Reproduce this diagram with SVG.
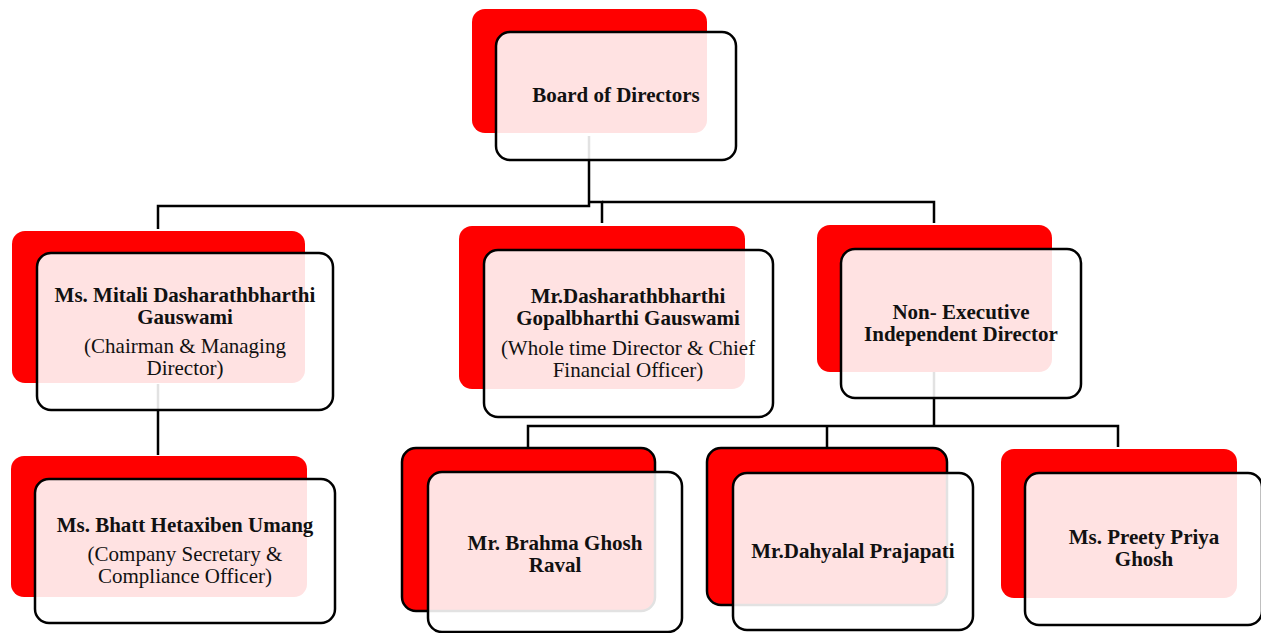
<svg xmlns="http://www.w3.org/2000/svg" width="1261" height="633" viewBox="0 0 1261 633">
<style>
.bg{fill:#ff0000;}
.bgs{fill:#ff0000;stroke:#000;stroke-width:2.5;}
.fr{fill:#fff;fill-opacity:0.885;stroke:#000;stroke-width:2.5;}
.con{fill:none;stroke:#000;stroke-width:2.5;}
text{font-family:"Liberation Serif","Times New Roman",serif;font-size:21px;fill:#111;text-anchor:middle;}
.b{font-weight:bold;}
</style>
<rect width="1261" height="633" fill="#fff"/>
<g id="connectors">
<path class="con" d="M589,136 V206 H158 V229"/>
<path class="con" d="M589,202 H602 V223"/>
<path class="con" d="M602,202 H934 V223"/>
<path class="con" d="M158,384 V455"/>
<path class="con" d="M934,372 V426"/>
<path class="con" d="M528,447 V426 H1118 V447"/>
<path class="con" d="M827,426 V447"/>
</g>
<g id="board">
<rect class="bg" x="472" y="9" width="235" height="124" rx="13"/>
<rect class="fr" x="496" y="32" width="240" height="128" rx="14"/>
<text class="b" x="616" y="102">Board of Directors</text>
</g>
<g id="mitali">
<rect class="bg" x="12" y="231" width="293" height="152" rx="13"/>
<rect class="fr" x="37" y="253" width="296" height="157" rx="14"/>
<text class="b" x="185" y="302">Ms. Mitali Dasharathbharthi</text>
<text class="b" x="185" y="324">Gauswami</text>
<text x="185" y="353">(Chairman &amp; Managing</text>
<text x="185" y="375">Director)</text>
</g>
<g id="dasharath">
<rect class="bg" x="459" y="226" width="286" height="163" rx="13"/>
<rect class="fr" x="484" y="250" width="289" height="167" rx="14"/>
<text class="b" x="628" y="303">Mr.Dasharathbharthi</text>
<text class="b" x="628" y="325">Gopalbharthi Gauswami</text>
<text x="628" y="355">(Whole time Director &amp; Chief</text>
<text x="628" y="377">Financial Officer)</text>
</g>
<g id="nonexec">
<rect class="bg" x="817" y="225" width="235" height="147" rx="13"/>
<rect class="fr" x="841" y="249" width="240" height="149" rx="14"/>
<text class="b" x="961" y="319">Non- Executive</text>
<text class="b" x="961" y="341">Independent Director</text>
</g>
<g id="bhatt">
<rect class="bg" x="11" y="456" width="296" height="141" rx="13"/>
<rect class="fr" x="35" y="479" width="300" height="144" rx="14"/>
<text class="b" x="185" y="532">Ms. Bhatt Hetaxiben Umang</text>
<text x="185" y="561">(Company Secretary &amp;</text>
<text x="185" y="583">Compliance Officer)</text>
</g>
<g id="brahma">
<rect class="bgs" x="402" y="448" width="253" height="163" rx="14"/>
<rect class="fr" x="428" y="472" width="254" height="160" rx="14"/>
<text class="b" x="555" y="550">Mr. Brahma Ghosh</text>
<text class="b" x="555" y="572">Raval</text>
</g>
<g id="dahyalal">
<rect class="bgs" x="707" y="448" width="240" height="157" rx="14"/>
<rect class="fr" x="733" y="473" width="240" height="157" rx="14"/>
<text class="b" x="853" y="558">Mr.Dahyalal Prajapati</text>
</g>
<g id="preety">
<rect class="bg" x="1001" y="449" width="236" height="149" rx="13"/>
<rect class="fr" x="1025" y="473" width="237" height="152" rx="14"/>
<text class="b" x="1144" y="544">Ms. Preety Priya</text>
<text class="b" x="1144" y="566">Ghosh</text>
</g>
</svg>
